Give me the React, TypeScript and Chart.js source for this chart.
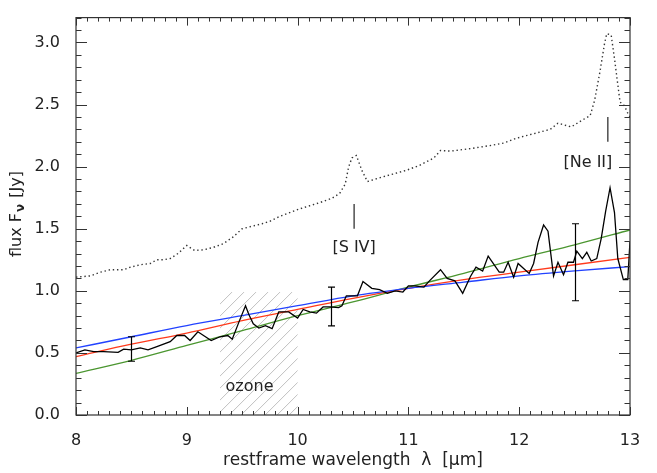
import React, { useEffect, useRef } from 'react';
import { Chart, registerables } from 'chart.js';

Chart.register(...registerables);

// observed spectrum (solid black)
const specX = [8.00, 8.08, 8.16, 8.25, 8.38, 8.43, 8.50, 8.58, 8.65, 8.73, 8.85, 8.91, 8.98, 9.03, 9.10, 9.22, 9.30, 9.37, 9.41, 9.48, 9.53, 9.56, 9.60, 9.65, 9.71, 9.77, 9.83, 9.92, 10.00, 10.05, 10.11, 10.17, 10.23, 10.29, 10.37, 10.40, 10.44, 10.50, 10.54, 10.59, 10.67, 10.74, 10.81, 10.88, 10.95, 11.00, 11.06, 11.14, 11.19, 11.29, 11.35, 11.42, 11.49, 11.56, 11.61, 11.67, 11.72, 11.82, 11.86, 11.90, 11.95, 11.99, 12.04, 12.09, 12.13, 12.17, 12.22, 12.26, 12.31, 12.35, 12.40, 12.44, 12.49, 12.52, 12.57, 12.61, 12.65, 12.70, 12.74, 12.78, 12.82, 12.86, 12.89, 12.94, 12.98, 13.00];
const specY = [0.50, 0.525, 0.51, 0.51, 0.505, 0.53, 0.525, 0.54, 0.525, 0.55, 0.59, 0.64, 0.64, 0.60, 0.67, 0.60, 0.63, 0.64, 0.61, 0.77, 0.88, 0.81, 0.735, 0.70, 0.72, 0.695, 0.83, 0.83, 0.78, 0.85, 0.83, 0.82, 0.87, 0.87, 0.865, 0.88, 0.96, 0.96, 0.96, 1.075, 1.02, 1.01, 0.98, 1.00, 0.99, 1.04, 1.04, 1.03, 1.08, 1.17, 1.10, 1.08, 0.98, 1.115, 1.19, 1.16, 1.28, 1.15, 1.15, 1.23, 1.11, 1.22, 1.18, 1.14, 1.22, 1.39, 1.53, 1.48, 1.12, 1.23, 1.13, 1.23, 1.23, 1.32, 1.26, 1.31, 1.24, 1.26, 1.42, 1.64, 1.83, 1.63, 1.26, 1.09, 1.09, 1.40];

// comparison spectrum (dotted)
const refX = [8.00, 8.13, 8.22, 8.31, 8.43, 8.49, 8.58, 8.67, 8.73, 8.79, 8.85, 8.92, 9.00, 9.07, 9.15, 9.24, 9.33, 9.42, 9.50, 9.59, 9.68, 9.75, 9.84, 10.02, 10.20, 10.31, 10.38, 10.43, 10.46, 10.49, 10.53, 10.58, 10.63, 10.74, 10.86, 10.98, 11.10, 11.23, 11.29, 11.38, 11.47, 11.56, 11.74, 11.86, 11.98, 12.13, 12.28, 12.35, 12.41, 12.47, 12.56, 12.64, 12.68, 12.73, 12.77, 12.79, 12.83, 12.86, 12.89, 12.91, 12.95, 12.98, 13.00];
const refY = [1.11, 1.12, 1.15, 1.17, 1.17, 1.19, 1.21, 1.22, 1.25, 1.25, 1.26, 1.30, 1.365, 1.325, 1.33, 1.35, 1.38, 1.435, 1.50, 1.52, 1.54, 1.56, 1.60, 1.66, 1.71, 1.745, 1.785, 1.86, 1.995, 2.07, 2.09, 1.97, 1.88, 1.91, 1.94, 1.97, 2.01, 2.07, 2.13, 2.125, 2.135, 2.145, 2.17, 2.19, 2.23, 2.265, 2.30, 2.35, 2.335, 2.32, 2.37, 2.41, 2.53, 2.77, 2.99, 3.07, 3.06, 2.87, 2.66, 2.52, 2.49, 2.43, 2.40];

// model fits
const fitX = [8.0, 8.5, 9.0, 9.5, 10.0, 10.5, 11.0, 11.5, 12.0, 12.5, 13.0];
const fitBlue = [0.54, 0.63, 0.72, 0.80, 0.88, 0.96, 1.02, 1.07, 1.12, 1.16, 1.195];
const fitRed = [0.47, 0.57, 0.66, 0.76, 0.85, 0.94, 1.02, 1.09, 1.15, 1.21, 1.27];
const fitGreen = [0.335, 0.44, 0.56, 0.68, 0.80, 0.91, 1.03, 1.14, 1.26, 1.37, 1.49];

// error bars
const errX = [8.5, 10.3, 12.5];
const errLow = [0.433, 0.717, 0.92];
const errHigh = [0.63, 1.03, 1.54];

// ozone band
const ozoneX = [9.3, 10.0];
const ozoneY = [0.0, 0.99];

// line markers
const markerLabels = ['[S IV]', '[Ne II]'];
const markerX = [10.51, 12.80];
const markerY0 = [1.50, 2.20];
const markerY1 = [1.70, 2.40];
const markerTextX = [10.51, 12.62];
const markerTextY = [1.35, 2.03];

// axes
const xTickValues = [8, 9, 10, 11, 12, 13];
const yTickValues = [0.0, 0.5, 1.0, 1.5, 2.0, 2.5, 3.0];
const xMin = 8, xMax = 13, yMin = 0, yMax = 3.2;

const FONT = "'DejaVu Sans', sans-serif";
const TXT = '#222';

const pts = (xs: number[], ys: number[]) => xs.map((x, i) => ({ x, y: ys[i] }));

const idlPlugin = {
  id: 'idl',
  beforeDatasetsDraw(chart: any) {
    const { ctx, scales } = chart;
    const x = scales.x, y = scales.y;
    const l = x.getPixelForValue(ozoneX[0]);
    const r = x.getPixelForValue(ozoneX[1]);
    const t = y.getPixelForValue(ozoneY[1]);
    const b = y.getPixelForValue(ozoneY[0]);
    ctx.save();
    ctx.beginPath();
    ctx.rect(l, t, r - l, b - t);
    ctx.clip();
    ctx.beginPath();
    ctx.strokeStyle = '#c0c0c0';
    ctx.lineWidth = 1;
    const h = b - t;
    for (let k = l - h; k < r + 2; k += 12) {
      ctx.moveTo(k, b);
      ctx.lineTo(k + h, t);
    }
    ctx.stroke();
    ctx.restore();

    ctx.save();
    ctx.fillStyle = TXT;
    ctx.font = `16px ${FONT}`;
    ctx.textAlign = 'left';
    ctx.textBaseline = 'middle';
    ctx.fillText('ozone', x.getPixelForValue(9.35), y.getPixelForValue(0.228));
    ctx.restore();
  },
  afterDatasetsDraw(chart: any) {
    const { ctx, chartArea, scales } = chart;
    const x = scales.x, y = scales.y;
    ctx.save();
    // error bars
    ctx.strokeStyle = '#000';
    ctx.lineWidth = 1.2;
    errX.forEach((ex, i) => {
      const px = Math.round(x.getPixelForValue(ex)) + 0.5;
      const p0 = y.getPixelForValue(errLow[i]);
      const p1 = y.getPixelForValue(errHigh[i]);
      ctx.beginPath();
      ctx.moveTo(px, p0); ctx.lineTo(px, p1);
      ctx.moveTo(px - 3.5, p0); ctx.lineTo(px + 3.5, p0);
      ctx.moveTo(px - 3.5, p1); ctx.lineTo(px + 3.5, p1);
      ctx.stroke();
    });
    // marker labels
    ctx.fillStyle = TXT;
    ctx.font = `16px ${FONT}`;
    ctx.textAlign = 'center';
    ctx.textBaseline = 'middle';
    markerLabels.forEach((lab, i) => {
      ctx.fillText(lab, x.getPixelForValue(markerTextX[i]), y.getPixelForValue(markerTextY[i]));
    });

    // frame
    const { left, right, top, bottom } = chartArea;
    ctx.strokeStyle = '#333';
    ctx.lineWidth = 1.2;
    ctx.strokeRect(left, top, right - left, bottom - top);

    // ticks
    ctx.beginPath();
    ctx.lineWidth = 1;
    for (let k = 0; k <= 50; k++) {
      const v = xMin + k * 0.1;
      const px = Math.round(x.getPixelForValue(v)) + 0.5;
      const major = k % 10 === 0;
      const len = major ? 8 : 4;
      ctx.moveTo(px, bottom); ctx.lineTo(px, bottom - len);
      ctx.moveTo(px, top); ctx.lineTo(px, top + len);
    }
    for (let k = 0; k <= 32; k++) {
      const v = yMin + k * 0.1;
      const py = Math.round(y.getPixelForValue(v)) + 0.5;
      const major = k % 5 === 0;
      const len = major ? 11 : 5.5;
      ctx.moveTo(left, py); ctx.lineTo(left + len, py);
      ctx.moveTo(right, py); ctx.lineTo(right - len, py);
    }
    ctx.stroke();

    // axis titles
    ctx.fillStyle = TXT;
    ctx.font = `17px ${FONT}`;
    ctx.textAlign = 'center';
    ctx.textBaseline = 'middle';
    ctx.fillText('restframe wavelength  \u03BB  [\u03BCm]', (left + right) / 2, 461);

    ctx.translate(17, 214);
    ctx.rotate(-Math.PI / 2);
    ctx.textAlign = 'left';
    const a = 'flux F';
    const sub = '\u03BD';
    const c = ' [Jy]';
    ctx.font = `16px ${FONT}`;
    const wa = ctx.measureText(a).width;
    const wc = ctx.measureText(c).width;
    ctx.font = `bold 12px ${FONT}`;
    const ws = ctx.measureText(sub).width;
    const total = wa + ws + 2 + wc;
    let cx = -total / 2;
    ctx.font = `16px ${FONT}`;
    ctx.fillText(a, cx, 0);
    cx += wa;
    ctx.font = `bold 12px ${FONT}`;
    ctx.fillText(sub, cx + 1, 4);
    cx += ws + 2;
    ctx.font = `16px ${FONT}`;
    ctx.fillText(c, cx, 0);
    ctx.restore();
  },
};

export default function App() {
  const ref = useRef<HTMLCanvasElement | null>(null);
  useEffect(() => {
    if (!ref.current) return;
    const markerSets = markerX.map((mx, i) => ({
      data: [{ x: mx, y: markerY0[i] }, { x: mx, y: markerY1[i] }],
      borderColor: '#333',
      borderWidth: 1.3,
      pointRadius: 0,
      tension: 0,
    }));
    const chart = new Chart(ref.current, {
      type: 'line',
      data: {
        datasets: [
          { data: pts(specX, specY), borderColor: '#000', borderWidth: 1.3, pointRadius: 0, tension: 0 },
          { data: pts(fitX, fitBlue), borderColor: '#2242ff', borderWidth: 1.3, pointRadius: 0, tension: 0.4, cubicInterpolationMode: 'monotone' },
          { data: pts(fitX, fitRed), borderColor: '#ff3a1c', borderWidth: 1.3, pointRadius: 0, tension: 0.4, cubicInterpolationMode: 'monotone' },
          { data: pts(fitX, fitGreen), borderColor: '#4b9630', borderWidth: 1.3, pointRadius: 0, tension: 0.4, cubicInterpolationMode: 'monotone' },
          { data: pts(refX, refY), borderColor: '#333', borderWidth: 1.4, borderDash: [1.4, 2.8], pointRadius: 0, tension: 0 },
          ...markerSets,
        ] as any,
      },
      options: {
        responsive: false,
        animation: false,
        devicePixelRatio: 1,
        layout: { padding: { top: 8, right: 27, left: 0, bottom: 0 } },
        plugins: { legend: { display: false }, tooltip: { enabled: false } },
        scales: {
          x: {
            type: 'linear',
            min: xMin,
            max: xMax,
            afterBuildTicks: (s: any) => { s.ticks = xTickValues.map((v) => ({ value: v })); },
            afterFit: (s: any) => { s.height = 58; },
            grid: { display: false },
            border: { display: false },
            ticks: { color: TXT, font: { family: FONT, size: 16 }, padding: 8, maxRotation: 0, callback: (v: any) => String(v) },
          },
          y: {
            type: 'linear',
            min: yMin,
            max: yMax,
            afterBuildTicks: (s: any) => { s.ticks = yTickValues.map((v) => ({ value: v })); },
            afterFit: (s: any) => { s.width = 76; },
            grid: { display: false },
            border: { display: false },
            ticks: { color: TXT, font: { family: FONT, size: 16 }, padding: 8, callback: (v: any) => Number(v).toFixed(1) },
          },
        },
      },
      plugins: [idlPlugin],
    });
    return () => chart.destroy();
  }, []);
  return (
    <div style={{ position: 'absolute', left: 0, top: 0, width: 657, height: 473, background: '#fff' }}>
      <canvas ref={ref} width={657} height={473} style={{ display: 'block', width: 657, height: 473 }} />
    </div>
  );
}
